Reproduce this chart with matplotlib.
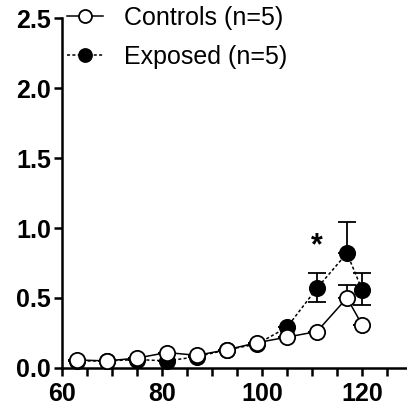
import matplotlib.pyplot as plt

plt.rcParams["font.family"] = ["Liberation Sans", "DejaVu Sans"]

age = [63, 69, 75, 81, 87, 93, 99, 105, 111, 117, 120]
controls = [0.057, 0.05, 0.07, 0.11, 0.09, 0.13, 0.18, 0.22, 0.26, 0.50, 0.31]
exposed = [0.05, 0.05, 0.06, 0.05, 0.08, 0.13, 0.17, 0.29, 0.57, 0.82, 0.56]
controls_err_up = [0, 0, 0, 0, 0, 0, 0, 0, 0, 0.09, 0]
exposed_err_lo = [0, 0, 0, 0, 0, 0, 0, 0, 0.10, 0, 0.11]
exposed_err_up = [0, 0, 0, 0, 0, 0, 0, 0, 0.11, 0.22, 0.12]
star_x, star_y = 111, 0.87

fig = plt.figure(figsize=(4.07, 4.12), dpi=100)
ax = fig.add_axes([0.152, 0.107, 0.848, 0.849])

ax.errorbar(
    age, exposed,
    yerr=[exposed_err_lo, exposed_err_up],
    fmt="o", color="black", ms=0, lw=0,
    elinewidth=1.3, capsize=6.5, capthick=1.3, zorder=2,
)
ax.errorbar(
    age, controls,
    yerr=[[0] * len(age), controls_err_up],
    fmt="o", color="black", ms=0, lw=0,
    elinewidth=1.3, capsize=6.5, capthick=1.3, zorder=2,
)

ax.plot(
    age, exposed,
    linestyle=(0, (2, 1.5)), lw=1.1, color="black",
    marker="o", ms=11, mfc="black", mec="black", mew=1.3,
    label="Exposed (n=5)", clip_on=False, zorder=3,
)
ax.plot(
    age, controls,
    linestyle="-", lw=1.1, color="black",
    marker="o", ms=11, mfc="white", mec="black", mew=1.3,
    label="Controls (n=5)", clip_on=False, zorder=4,
)

ax.text(star_x, star_y, "*", ha="center", va="center", fontsize=22, fontweight="bold")

ax.set_xlim(60, 129)
ax.set_ylim(0, 2.5)
ax.set_xticks([60, 80, 100, 120])
ax.set_xticks(range(60, 130, 5), minor=True)
ax.set_yticks([0, 0.5, 1.0, 1.5, 2.0, 2.5])
ax.set_yticklabels(["0.0", "0.5", "1.0", "1.5", "2.0", "2.5"])

for side in ["top", "right"]:
    ax.spines[side].set_visible(False)
for side in ["left", "bottom"]:
    ax.spines[side].set_linewidth(1.8)

ax.tick_params(axis="both", which="both", width=1.8, direction="out")
ax.tick_params(axis="x", which="both", length=6, pad=4)
ax.tick_params(axis="y", length=6, pad=2)
for lbl in ax.get_xticklabels() + ax.get_yticklabels():
    lbl.set_fontsize(18)
    lbl.set_fontweight("bold")

handles, labels = ax.get_legend_handles_labels()
ax.legend(
    handles[::-1], labels[::-1],
    loc="upper left", bbox_to_anchor=(0.0145, 1.034),
    frameon=False, fontsize=18, markerscale=0.85,
    borderaxespad=0, borderpad=0,
    handlelength=1.45, handletextpad=0.85, labelspacing=0.6,
)

fig.savefig("out.png", dpi=100)
